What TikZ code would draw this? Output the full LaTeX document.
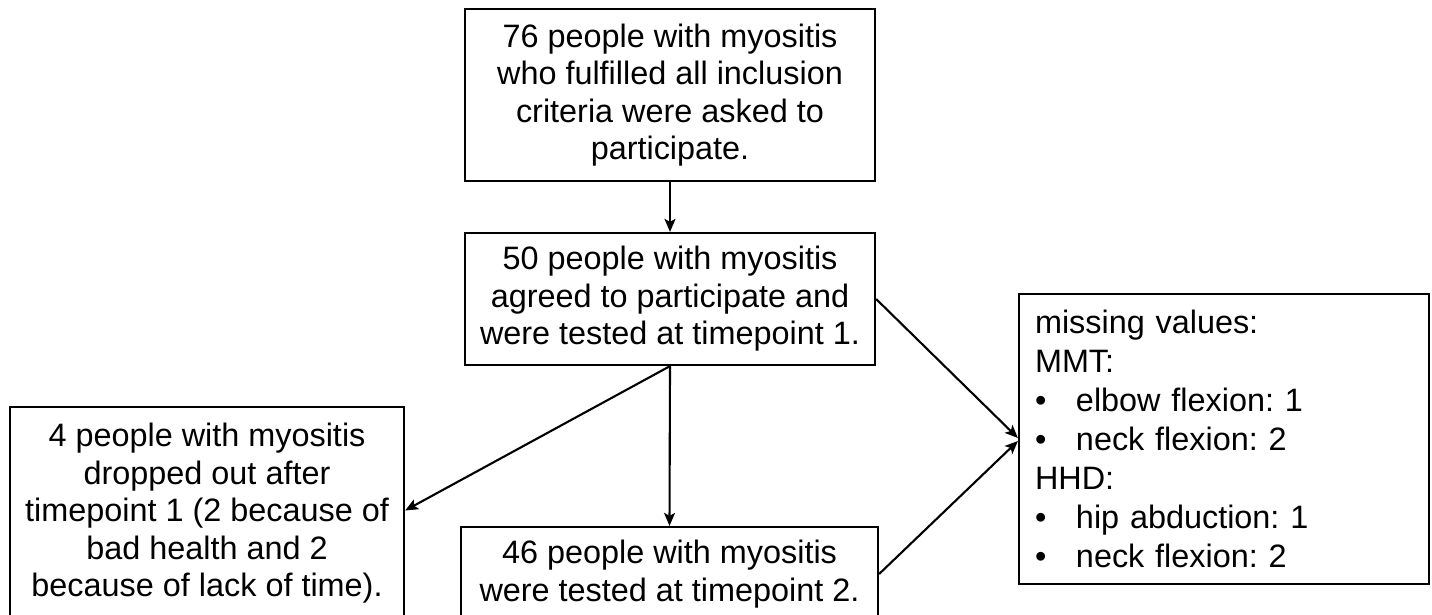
\documentclass[tikz,border=0pt]{standalone}
\usepackage{fontspec}
\setmainfont{Liberation Sans}
\usetikzlibrary{arrows.meta}
\frenchspacing
\tikzset{
  box/.style={draw=black, line width=2.2pt, fill=white, inner sep=0pt, align=center,
    font=\fontsize{32.4}{37.5}\selectfont\frenchspacing},
  conn/.style={line width=2.1pt, -{Stealth[length=13pt,width=11pt,inset=3pt]}},
}
\begin{document}
\begin{tikzpicture}[x=1pt,y=-1pt]
\useasboundingbox (0,0) rectangle (1432,615);
\clip (0,0) rectangle (1432,615);
\node[box, minimum width=410pt, minimum height=172pt] (b1) at (670,95)
  {76 people with myositis\\who fulfilled all inclusion\\criteria were asked to\\participate.};
\node[box, minimum width=410pt, minimum height=132pt] (b2) at (670,299)
  {50 people with myositis\\agreed to participate and\\were tested at timepoint 1.};
\node[box, minimum width=394pt, minimum height=213pt] (drop) at (207,513.5)
  {4 people with myositis\\dropped out after\\timepoint 1 (2 because of\\bad health and 2\\because of lack of time).};
\node[box, minimum width=417pt, minimum height=94pt] (b3) at (669.5,574)
  {46 people with myositis\\were tested at timepoint 2.};
\node[box, align=left, text width=378pt, inner sep=16pt, minimum width=410pt, minimum height=290pt,
  font=\fontsize{32.4}{39}\selectfont\frenchspacing] (miss) at (1224,439)
  {missing values:\\MMT:\\\makebox[41pt][l]{•}elbow flexion: 1\\\makebox[41pt][l]{•}neck flexion: 2\\HHD:\\\makebox[41pt][l]{•}hip abduction: 1\\\makebox[41pt][l]{•}neck flexion: 2};
\draw[conn] (b1.south) -- (b2.north);
\draw[conn] (b2.south) -- (b3.north);
\draw[conn] (b2.south) -- ([yshift=3pt]drop.east);
\draw[conn] (b2.east) -- ([yshift=1pt]miss.west);
\draw[conn] (b3.east) -- ([yshift=-2pt]miss.west);
\end{tikzpicture}
\end{document}
